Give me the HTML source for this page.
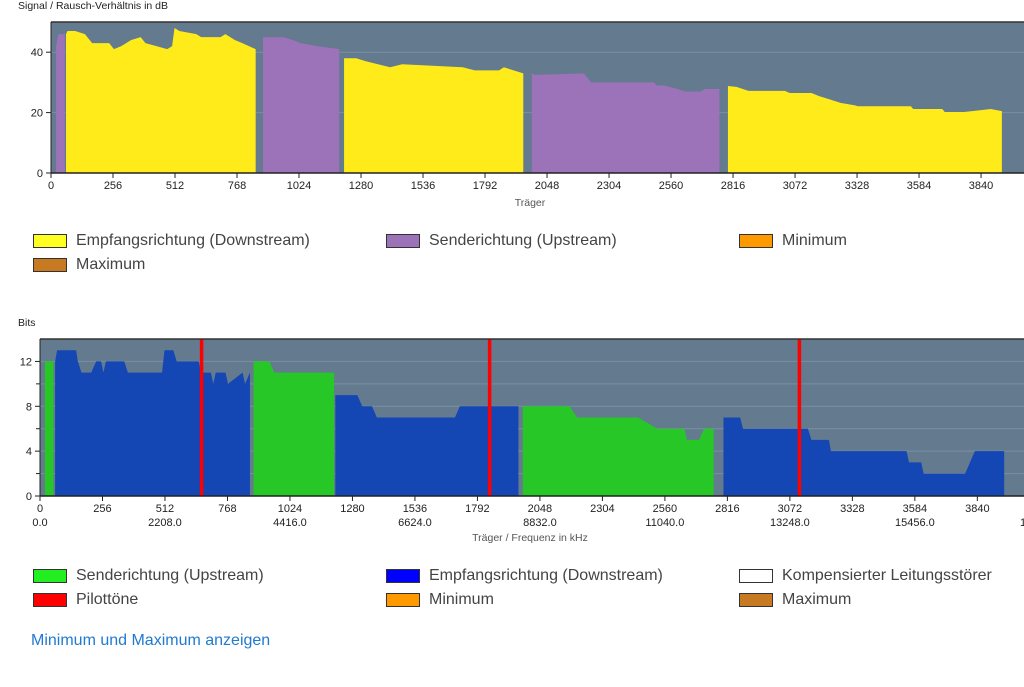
<!DOCTYPE html>
<html><head><meta charset="utf-8"><style>
body{margin:0;background:#fff;font-family:"Liberation Sans",sans-serif;width:1024px;height:687px;overflow:hidden;position:relative}
svg{position:absolute;left:0;top:0}
.leg{position:absolute;font-size:16px;color:#444;height:20px;line-height:20px}
.leg span.b{position:absolute;left:0;top:3px;width:32px;height:12px;border:1px solid #333}
.leg span.t{position:absolute;left:43px;white-space:nowrap}
a{position:absolute;left:31px;top:632px;font-size:16px;color:#1f7ad0;text-decoration:none}
</style></head><body>
<svg id="c" width="1024" height="687"></svg>
<div class="leg" style="left:33px;top:231px"><span class="b" style="background:#ffff22"></span><span class="t">Empfangsrichtung (Downstream)</span></div>
<div class="leg" style="left:386px;top:231px"><span class="b" style="background:#9c72b8"></span><span class="t">Senderichtung (Upstream)</span></div>
<div class="leg" style="left:739px;top:231px"><span class="b" style="background:#ff9900"></span><span class="t">Minimum</span></div>
<div class="leg" style="left:33px;top:255px"><span class="b" style="background:#c87a22"></span><span class="t">Maximum</span></div>
<div class="leg" style="left:33px;top:566px"><span class="b" style="background:#22ee22"></span><span class="t">Senderichtung (Upstream)</span></div>
<div class="leg" style="left:386px;top:566px"><span class="b" style="background:#0000ff"></span><span class="t">Empfangsrichtung (Downstream)</span></div>
<div class="leg" style="left:739px;top:566px"><span class="b" style="background:#fff"></span><span class="t">Kompensierter Leitungsstörer</span></div>
<div class="leg" style="left:33px;top:590px"><span class="b" style="background:#ff0000"></span><span class="t">Pilottöne</span></div>
<div class="leg" style="left:386px;top:590px"><span class="b" style="background:#ff9900"></span><span class="t">Minimum</span></div>
<div class="leg" style="left:739px;top:590px"><span class="b" style="background:#c87a22"></span><span class="t">Maximum</span></div>
<a href="#">Minimum und Maximum anzeigen</a>
<script>
// SNR chart data (carrier breakpoints, dB)
const snrUp1C=[21,30,57];const snrUp1V=[42,46,46];
const snrDn1C=[62,68,100,140,170,240,260,290,330,370,390,480,500,510,530,600,620,700,720,760,790,845];
const snrDn1V=[46,47,47,46,43,43,41,42,44,45,43,41,42,48,47,46,45,45,46,44,43,41];
const snrUp2C=[875,960,1000,1030,1100,1190];const snrUp2V=[45,45,44,43,42,41];
const snrDn2C=[1210,1260,1300,1400,1450,1700,1750,1800,1850,1870,1950];
const snrDn2V=[38,38,37,35,36,35,34,34,34,35,33];
const snrUp3C=[1985,2000,2200,2220,2230,2490,2500,2530,2580,2620,2680,2700,2760];
const snrUp3V=[33,32.5,33,31,30,30,29,29,28,27,27,27.8,27.8];
const snrDn3C=[2795,2830,2880,3030,3050,3140,3170,3210,3260,3320,3330,3550,3560,3680,3690,3770,3840,3880,3926];
const snrDn3V=[28.8,28.5,27.2,27.2,26.5,26.5,25.5,24.5,23.2,22.4,22.1,22.1,21.2,21.2,20.2,20.2,20.8,21.2,20.5];
// Bits chart data
const bitUp1C=[20,25,55];const bitUp1V=[12,12,12];
const bitDn1C=[62,70,148,155,170,210,230,250,260,270,345,360,500,510,546,560,650,660,700,710,720,760,770,830,840,860];
const bitDn1V=[12,13,13,12,11,11,12,12,11,12,12,11,11,13,13,12,12,11,11,10,11,11,10,11,10,11];
const bitUp2C=[875,940,960,1180,1205];const bitUp2V=[12,12,11,11,11];
const bitDn2C=[1210,1300,1320,1360,1380,1700,1720,1960];const bitDn2V=[9,9,8,8,7,7,8,8];
const bitUp3C=[1978,1990,2170,2200,2450,2530,2640,2650,2700,2720,2760];const bitUp3V=[8,8,8,7,7,6,6,5,5,6,6];
const bitDn3C=[2800,2810,2868,2880,3146,3160,3232,3240,3380,3390,3550,3560,3610,3620,3790,3830,3950];
const bitDn3V=[7,7,7,6,6,5,5,4,4,4,4,3,3,2,2,4,4];
const pilotC=[662,1842,3111];
const xTicks=[0,256,512,768,1024,1280,1536,1792,2048,2304,2560,2816,3072,3328,3584,3840];
const snrTicks=[0,20,40];const bitTicks=[0,4,8,12];
const NS="http://www.w3.org/2000/svg",svg=document.getElementById('c');
function el(t,a,txt){const e=document.createElementNS(NS,t);for(const k in a)e.setAttribute(k,a[k]);if(txt!==undefined)e.textContent=txt;svg.appendChild(e);return e;}
function chart(o){
 const X=c=>o.x0+c*o.kx,Y=v=>o.y1-(v/o.ymax)*(o.y1-o.y0);
 let r=el('rect',{x:o.x0,y:o.y0,width:1024-o.x0,height:o.y1-o.y0,fill:'#637a8f'});
 
 for(const g of o.grid){let l=el('line',{x1:o.x0,x2:1024,y1:Y(g),y2:Y(g),stroke:'#7b8fa2','stroke-width':1});}
 for(const s of o.series){const p=[[X(s.c[0]),Y(0)]];s.c.forEach((c,i)=>p.push([X(c),Y(s.v[i])]));p.push([X(s.c[s.c.length-1]),Y(0)]);
  let pg=el('polygon',{points:p.map(q=>q.join(',')).join(' '),fill:s.col});}
 (o.pilots||[]).forEach(c=>{let l=el('line',{x1:X(c),x2:X(c),y1:o.y0,y2:o.y1,stroke:'#ff0000','stroke-width':3.5});});
 el('line',{x1:o.x0,x2:1024,y1:o.y0,y2:o.y0,stroke:'#333','stroke-width':1.5});
 el('line',{x1:o.x0,x2:1024,y1:o.y1,y2:o.y1,stroke:'#222','stroke-width':1.5});
 el('line',{x1:o.x0,x2:o.x0,y1:o.y0,y2:o.y1,stroke:'#222','stroke-width':1});
 for(const t of o.yt){el('line',{x1:o.x0-5,x2:o.x0,y1:Y(t),y2:Y(t),stroke:'#222'});let tx=el('text',{x:o.x0-8,y:Y(t)+4,'font-size':11,'text-anchor':'end',fill:'#222'},t);}
 for(const t of (o.yminor||[]))el('line',{x1:o.x0-4,x2:o.x0,y1:Y(t),y2:Y(t),stroke:'#222'});
 for(const t of xTicks){el('line',{x1:X(t),x2:X(t),y1:o.y1,y2:o.y1+5,stroke:'#222'});let tx=el('text',{x:X(t),y:o.y1+16,'font-size':11,'text-anchor':'middle',fill:'#222'},t);
  if(o.freq&&t%512===0){let f=el('text',{x:X(t),y:o.y1+30,'font-size':11,'text-anchor':'middle',fill:'#222'},(t*4.3125).toFixed(1));}}
 if(o.freq){let f=el('text',{x:X(4096),y:o.y1+30,'font-size':11,'text-anchor':'middle',fill:'#222'},'17664.0');}
 let t1=el('text',{x:18,y:o.y0-13,'font-size':10.5,fill:'#222'},o.title);
 let t2=el('text',{x:530,y:o.xy,'font-size':10.5,'text-anchor':'middle',fill:'#555'},o.xtitle);
}
const Yc='#ffea1a',Pc='#9c72b8',Gc='#26c726',Bc='#1446b4';
chart({name:'snr',x0:51,y0:22,y1:173,kx:0.2422,ymax:50,grid:[20,40],yt:snrTicks,title:'Signal / Rausch-Verhältnis in dB',xtitle:'Träger',xy:206,
 series:[{c:snrUp1C,v:snrUp1V,col:Pc,name:'snr-upstream'},{c:snrDn1C,v:snrDn1V,col:Yc,name:'snr-downstream'},{c:snrUp2C,v:snrUp2V,col:Pc,name:'snr-upstream'},{c:snrDn2C,v:snrDn2V,col:Yc,name:'snr-downstream'},{c:snrUp3C,v:snrUp3V,col:Pc,name:'snr-upstream'},{c:snrDn3C,v:snrDn3V,col:Yc,name:'snr-downstream'}]});
chart({name:'bits',x0:40,y0:339,y1:496,kx:0.2441,ymax:14,grid:[2,4,6,8,10,12],yt:bitTicks,yminor:[2,6,10],title:'Bits',xtitle:'Träger / Frequenz in kHz',xy:541,freq:true,pilots:pilotC,
 series:[{c:bitUp1C,v:bitUp1V,col:Gc,name:'bits-upstream'},{c:bitDn1C,v:bitDn1V,col:Bc,name:'bits-downstream'},{c:bitUp2C,v:bitUp2V,col:Gc,name:'bits-upstream'},{c:bitDn2C,v:bitDn2V,col:Bc,name:'bits-downstream'},{c:bitUp3C,v:bitUp3V,col:Gc,name:'bits-upstream'},{c:bitDn3C,v:bitDn3V,col:Bc,name:'bits-downstream'}]});
</script>
</body></html>
